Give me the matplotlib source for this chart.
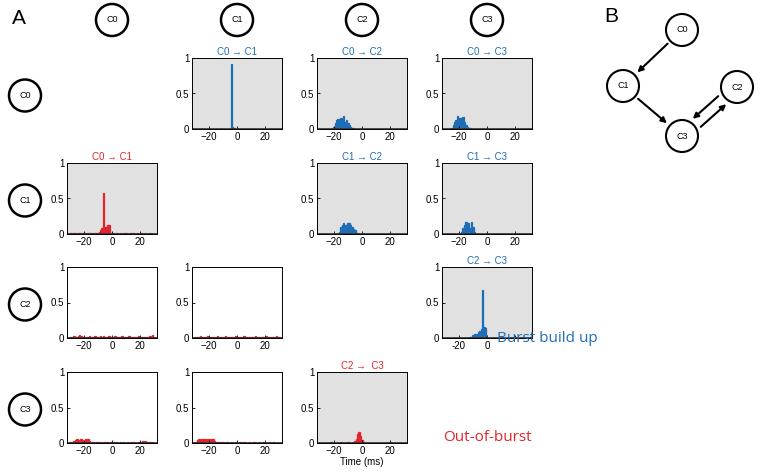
import numpy as np
import matplotlib.pyplot as plt
from matplotlib.patches import Ellipse, FancyArrowPatch

W, H = 760, 473
BLUE = '#1f6db5'
RED = '#e3242b'
GRAY = '#e1e1e1'

# bin centres (ms) for every histogram
bins = np.arange(-30, 31)

# burst build-up (blue) histograms: (bin centre, probability)
c0_c1_t = [-4, -3, -2]
c0_c1_p = [0.92, 0.03, 0.02]
c0_c2_t = [-20, -19, -18, -17, -16, -15, -14, -13, -12, -11, -10, -9, -8, -7, -6]
c0_c2_p = [0.03, 0.08, 0.13, 0.14, 0.10, 0.15, 0.12, 0.18, 0.10, 0.12, 0.08, 0.05, 0.03, 0.02, 0.01]
c0_c3_t = [-25, -24, -23, -22, -21, -20, -19, -18, -17, -16, -15, -14, -13, -12]
c0_c3_p = [0.02, 0.05, 0.10, 0.12, 0.18, 0.15, 0.16, 0.12, 0.17, 0.10, 0.05, 0.03, 0.02, 0.01]
c1_c2_t = [-16, -15, -14, -13, -12, -11, -10, -9, -8, -7, -6, -5, -4, -3]
c1_c2_p = [0.03, 0.10, 0.13, 0.15, 0.12, 0.09, 0.15, 0.16, 0.12, 0.10, 0.07, 0.05, 0.02, 0.01]
c1_c3_t = [-18, -17, -16, -15, -14, -13, -12, -11, -10, -9]
c1_c3_p = [0.03, 0.08, 0.12, 0.17, 0.12, 0.16, 0.09, 0.17, 0.10, 0.03]
c2_c3_t = [-12, -11, -10, -9, -8, -7, -6, -5, -4, -3, -2, -1]
c2_c3_p = [0.01, 0.02, 0.04, 0.05, 0.06, 0.05, 0.08, 0.10, 0.12, 0.68, 0.15, 0.14]

# out-of-burst (red) histograms, one value per bin
oob_c0_c1 = [0.01, 0.01, 0.0, 0.01, 0.01, 0.0, 0.01, 0.01, 0.01, 0.0, 0.01, 0.01, 0.0, 0.01, 0.01,
             0.01, 0.0, 0.01, 0.01, 0.01, 0.02, 0.03, 0.05, 0.08, 0.58, 0.10, 0.09, 0.12, 0.12, 0.02,
             0.01, 0.01, 0.0, 0.01, 0.01, 0.0, 0.01, 0.0, 0.01, 0.0, 0.01, 0.0, 0.0, 0.01, 0.0,
             0.01, 0.0, 0.0, 0.01, 0.0, 0.0, 0.01, 0.0, 0.0, 0.01, 0.0, 0.0, 0.01, 0.0, 0.0, 0.0]
oob_c0_c2 = [0.02, 0.01, 0.02, 0.03, 0.02, 0.01, 0.03, 0.04, 0.03, 0.02, 0.01, 0.02, 0.01, 0.02, 0.03,
             0.02, 0.01, 0.02, 0.03, 0.02, 0.01, 0.02, 0.03, 0.02, 0.03, 0.02, 0.01, 0.02, 0.03, 0.02,
             0.02, 0.01, 0.03, 0.02, 0.02, 0.01, 0.02, 0.03, 0.02, 0.01, 0.02, 0.02, 0.03, 0.02, 0.01,
             0.02, 0.02, 0.01, 0.02, 0.03, 0.02, 0.01, 0.02, 0.02, 0.01, 0.02, 0.02, 0.03, 0.02, 0.04, 0.02]
oob_c1_c2 = [0.02, 0.02, 0.01, 0.02, 0.03, 0.02, 0.01, 0.02, 0.02, 0.03, 0.02, 0.01, 0.02, 0.02, 0.01,
             0.02, 0.03, 0.02, 0.02, 0.01, 0.02, 0.02, 0.03, 0.02, 0.01, 0.02, 0.02, 0.01, 0.02, 0.03,
             0.02, 0.02, 0.01, 0.02, 0.02, 0.03, 0.02, 0.01, 0.02, 0.02, 0.01, 0.02, 0.02, 0.03, 0.02,
             0.01, 0.02, 0.02, 0.01, 0.02, 0.02, 0.03, 0.02, 0.01, 0.02, 0.02, 0.01, 0.02, 0.03, 0.02, 0.02]
oob_c0_c3 = [0.01, 0.01, 0.02, 0.03, 0.04, 0.05, 0.03, 0.04, 0.06, 0.04, 0.03, 0.05, 0.04, 0.06, 0.03,
             0.02, 0.01, 0.01, 0.0, 0.01, 0.01, 0.0, 0.01, 0.0, 0.01, 0.01, 0.0, 0.01, 0.0, 0.01,
             0.0, 0.01, 0.0, 0.01, 0.0, 0.0, 0.01, 0.0, 0.01, 0.0, 0.0, 0.01, 0.0, 0.0, 0.01,
             0.0, 0.01, 0.0, 0.0, 0.01, 0.0, 0.02, 0.03, 0.02, 0.03, 0.02, 0.01, 0.01, 0.0, 0.01, 0.0]
oob_c1_c3 = [0.01, 0.02, 0.04, 0.05, 0.03, 0.05, 0.06, 0.04, 0.05, 0.03, 0.05, 0.04, 0.06, 0.05, 0.03,
             0.02, 0.01, 0.0, 0.01, 0.0, 0.01, 0.0, 0.0, 0.01, 0.0, 0.0, 0.01, 0.0, 0.0, 0.01,
             0.0, 0.0, 0.01, 0.0, 0.0, 0.01, 0.0, 0.0, 0.0, 0.01, 0.0, 0.0, 0.01, 0.0, 0.0,
             0.0, 0.01, 0.0, 0.0, 0.01, 0.0, 0.0, 0.0, 0.01, 0.0, 0.0, 0.01, 0.0, 0.0, 0.0, 0.0]
oob_c2_c3 = [0.0, 0.0, 0.0, 0.0, 0.0, 0.0, 0.0, 0.0, 0.02, 0.0, 0.0, 0.0, 0.0, 0.0, 0.0,
             0.02, 0.0, 0.0, 0.0, 0.0, 0.02, 0.0, 0.0, 0.0, 0.01, 0.03, 0.06, 0.12, 0.15, 0.10,
             0.04, 0.01, 0.0, 0.0, 0.0, 0.0, 0.0, 0.0, 0.0, 0.0, 0.0, 0.0, 0.0, 0.0, 0.0,
             0.0, 0.0, 0.0, 0.0, 0.0, 0.02, 0.0, 0.0, 0.0, 0.0, 0.0, 0.0, 0.0, 0.0, 0.0, 0.0]

nodes = ['C0', 'C1', 'C2', 'C3']

plt.rcParams['font.family'] = ['Liberation Sans', 'DejaVu Sans']
fig = plt.figure(figsize=(7.6, 4.73), dpi=100)

# overlay in pixel coordinates for circles, labels and graph B
ov = fig.add_axes([0, 0, 1, 1], zorder=-1)
ov.set_xlim(0, W)
ov.set_ylim(H, 0)
ov.axis('off')

def node(x, y, name, r=16, lw=1.8, fs=6.5):
    ov.add_patch(Ellipse((x, y), 2 * r, 2 * r, fill=False, lw=lw, ec='black'))
    ov.text(x, y, name, ha='center', va='center', fontsize=fs)

col_left = [67, 192, 317, 442]
row_top = [58, 163, 267, 372]
pw, ph = 90, 71

for j, n in enumerate(nodes):
    node(col_left[j] + pw / 2, 20, n)
for i, n in enumerate(nodes):
    node(25, row_top[i] + ph / 2 + 2, n)

def panel(i, j, t, p, color, title=None, gray=True):
    ax = fig.add_axes([col_left[j] / W, 1 - (row_top[i] + ph) / H, pw / W, ph / H])
    ax.bar(t, p, width=1.0, color=color, edgecolor=color, lw=0.9)
    ax.set_xlim(-32, 32)
    ax.set_ylim(0, 1)
    ax.set_facecolor(GRAY if gray else 'white')
    ax.set_xticks([-20, 0, 20])
    ax.set_yticks([0, 0.5, 1])
    ax.set_yticklabels(['0', '0.5', '1'])
    ax.tick_params(labelsize=7, direction='in', length=2, width=0.6, pad=2)
    for s in ax.spines.values():
        s.set_linewidth(0.7)
    ax.axhline(0, color='#333333', lw=1.2)
    if title:
        ax.set_title(title, fontsize=7, color=color, pad=2)
    return ax

panel(0, 1, c0_c1_t, c0_c1_p, BLUE, 'C0 \u2192 C1')
panel(0, 2, c0_c2_t, c0_c2_p, BLUE, 'C0 \u2192 C2')
panel(0, 3, c0_c3_t, c0_c3_p, BLUE, 'C0 \u2192 C3')
panel(1, 2, c1_c2_t, c1_c2_p, BLUE, 'C1 \u2192 C2')
panel(1, 3, c1_c3_t, c1_c3_p, BLUE, 'C1 \u2192 C3')
ax = panel(2, 3, c2_c3_t, c2_c3_p, BLUE, 'C2 \u2192 C3')
# the "Burst build up" label covers this panel's last tick label
ax.set_xticklabels(['-20', '0', ''])

panel(1, 0, bins, oob_c0_c1, RED, 'C0 \u2192 C1')
panel(2, 0, bins, oob_c0_c2, RED, gray=False)
panel(2, 1, bins, oob_c1_c2, RED, gray=False)
panel(3, 0, bins, oob_c0_c3, RED, gray=False)
panel(3, 1, bins, oob_c1_c3, RED, gray=False)
ax = panel(3, 2, bins, oob_c2_c3, RED, 'C2 \u2192  C3')
ax.set_xlabel('Time (ms)', fontsize=7, labelpad=1)

fig.text(12 / W, 1 - 18 / H, 'A', fontsize=15, va='center')
fig.text(604 / W, 1 - 17 / H, 'B', fontsize=15, va='center')
fig.text(497 / W, 1 - 338 / H, 'Burst build up', fontsize=11, color=BLUE,
         va='center', family=['Open Sans', 'DejaVu Sans'], zorder=10)
fig.text(443 / W, 1 - 437 / H, 'Out-of-burst', fontsize=11, color=RED,
         va='center', family=['Open Sans', 'DejaVu Sans'])

# graph B
pos = {'C0': (682, 30), 'C1': (623, 86), 'C2': (737, 87), 'C3': (682, 136)}
for n, (x, y) in pos.items():
    node(x, y, n, r=16, lw=1.5, fs=6.5)

def arrow(a, b, off=(0, 0)):
    (x0, y0), (x1, y1) = pos[a], pos[b]
    d = np.hypot(x1 - x0, y1 - y0)
    ux, uy = (x1 - x0) / d, (y1 - y0) / d
    r = 17
    ov.add_patch(FancyArrowPatch((x0 + ux * r + off[0], y0 + uy * r + off[1]),
                                 (x1 - ux * r + off[0], y1 - uy * r + off[1]),
                                 arrowstyle='-|>', mutation_scale=8, lw=1.5, color='black'))

arrow('C0', 'C1')
arrow('C1', 'C3')
arrow('C2', 'C3', (-4, -4))
arrow('C3', 'C2', (4, 4))

fig.savefig('out.png', dpi=100)
